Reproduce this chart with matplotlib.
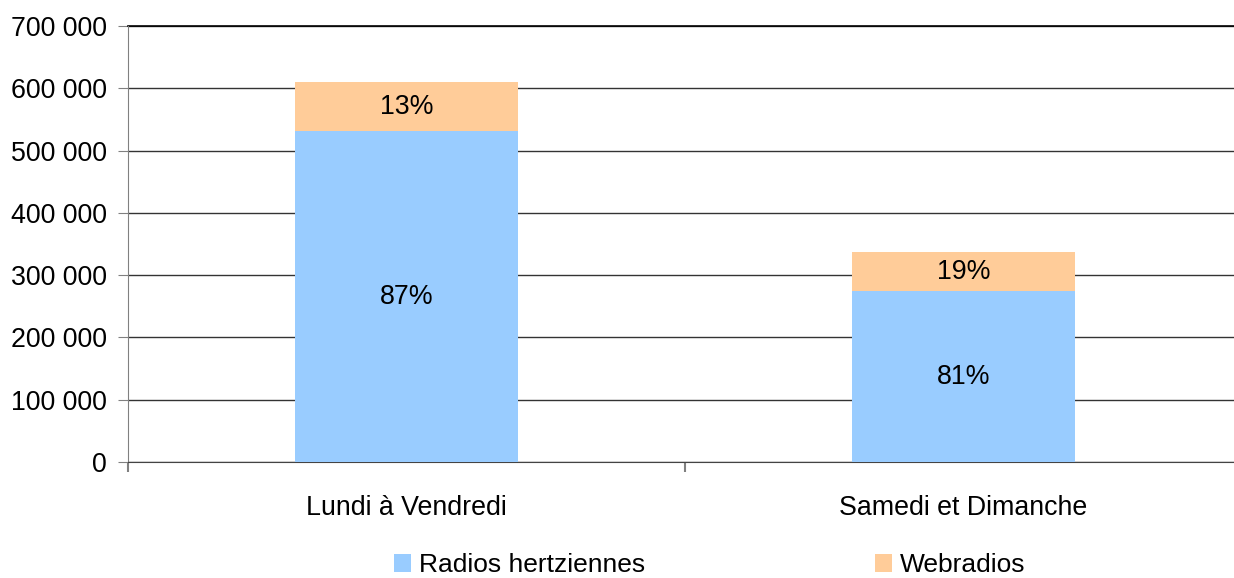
import matplotlib.pyplot as plt
from matplotlib.ticker import FuncFormatter, FixedLocator

categories = ['Lundi à Vendredi', 'Samedi et Dimanche']
hertziennes = [531000, 274000]
webradios = [79000, 63000]
series_names = ['Radios hertziennes', 'Webradios']

plt.rcParams['font.family'] = ['Liberation Sans', 'DejaVu Sans']

fig = plt.figure(figsize=(12.34, 5.78), dpi=100)
ax = fig.add_axes([128 / 1234, 1 - 462 / 578, 1114 / 1234, 436 / 578])

x = list(range(len(categories)))
b1 = ax.bar(x, hertziennes, width=0.402, color='#99CCFF', label=series_names[0], zorder=3)
b2 = ax.bar(x, webradios, width=0.402, bottom=hertziennes, color='#FFCC99', label=series_names[1], zorder=3)

for i in x:
    tot = hertziennes[i] + webradios[i]
    ax.text(i, hertziennes[i] / 2, '%d%%' % round(100 * hertziennes[i] / tot),
            ha='center', va='center', fontsize=19.3, zorder=4)
    ax.text(i, hertziennes[i] + webradios[i] / 2, '%d%%' % round(100 * webradios[i] / tot),
            ha='center', va='center', fontsize=19.3, zorder=4)

ax.set_xlim(-0.5, 1.5)
ax.set_ylim(0, 700000)
ax.set_yticks(range(0, 700001, 100000))
ax.yaxis.set_major_formatter(FuncFormatter(lambda v, p: '{:,}'.format(int(v)).replace(',', ' ')))
ax.yaxis.grid(True, color='#333333', linewidth=1)
ax.set_axisbelow(True)

ax.set_xticks(x)
ax.set_xticklabels(categories)
ax.xaxis.set_minor_locator(FixedLocator([-0.5, 0.5, 1.5]))
ax.tick_params(axis='x', which='major', length=0, pad=24, labelsize=19.3)
ax.tick_params(axis='x', which='minor', length=7, color='#808080', width=1.5)
ax.tick_params(axis='y', length=7, color='#808080', labelsize=19.3, pad=8)

for s in ['top', 'right']:
    ax.spines[s].set_visible(False)
ax.spines['left'].set_color('#808080')
ax.spines['bottom'].set_color('#444444')
ax.axhline(700000, color='black', linewidth=1.2, clip_on=False)

fig.legend(handles=[b1, b2], labels=series_names, loc='center', bbox_to_anchor=(0.575, 0.022),
           ncol=2, frameon=False, fontsize=19, handlelength=0.65, handleheight=0.65,
           handletextpad=0.3, columnspacing=8.7)

fig.savefig('out.png', dpi=100)
